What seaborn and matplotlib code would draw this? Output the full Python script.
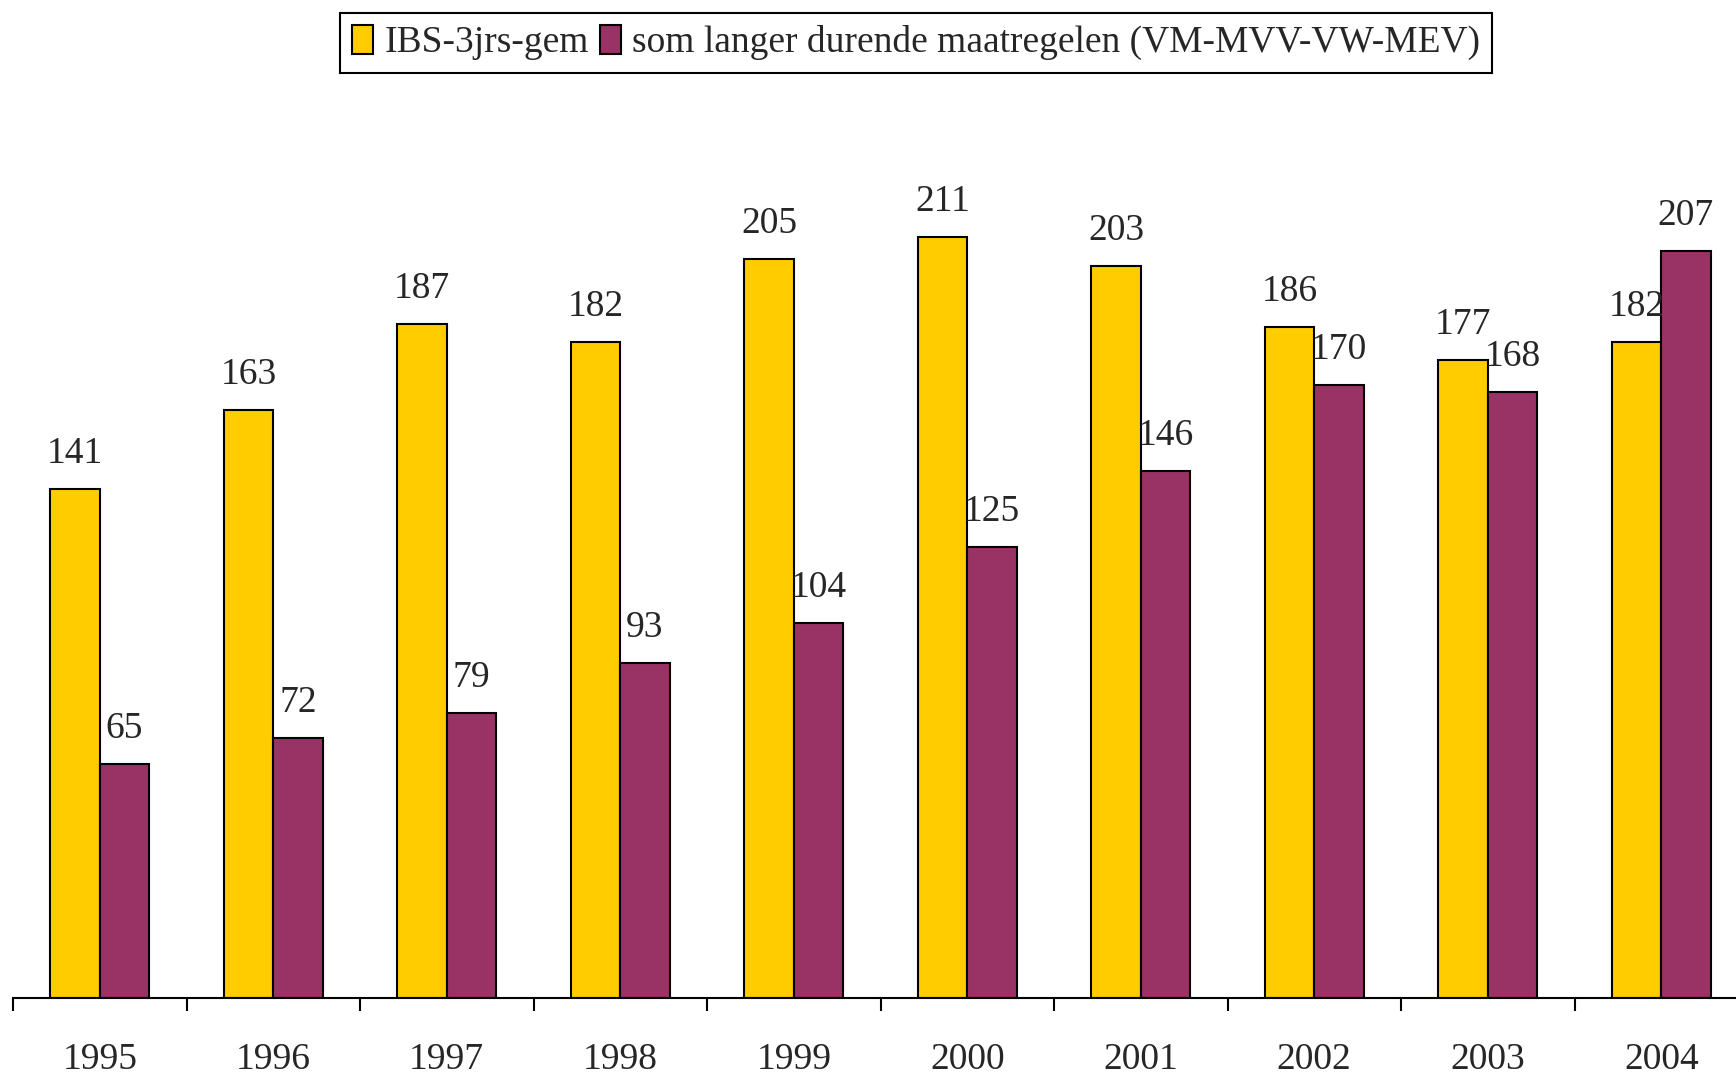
import matplotlib
matplotlib.use('Agg')
import matplotlib.pyplot as plt
import seaborn as sns
import pandas as pd
import numpy as np

years = ['1995', '1996', '1997', '1998', '1999', '2000', '2001', '2002', '2003', '2004']
ibs = [141, 163, 187, 182, 205, 211, 203, 186, 177, 182]
langer = [65, 72, 79, 93, 104, 125, 146, 170, 168, 207]
series_names = ['IBS-3jrs-gem', 'som langer durende maatregelen (VM-MVV-VW-MEV)']
colors = ['#FFCC00', '#993366']

df = pd.DataFrame({
    'jaar': years * 2,
    'waarde': ibs + langer,
    'reeks': [series_names[0]] * len(years) + [series_names[1]] * len(years),
})

sns.set_style('white')
plt.rcParams['font.family'] = ['Liberation Serif', 'DejaVu Serif']

W, H = 1736, 1074
fig = plt.figure(figsize=(W / 100, H / 100), dpi=100)
# axis line at y=998 px, left boundary tick at x=13 px, slot ~173.5 px
slot = 173.5
ylim_top = 240
px_per_unit = 761 / 211
ax_h = ylim_top * px_per_unit
ax = fig.add_axes([13 / W, (H - 998) / H, 10 * slot / W, ax_h / H])

sns.barplot(data=df, x='jaar', y='waarde', hue='reeks', palette=colors,
            width=0.57, edgecolor='black', linewidth=1.5, saturation=1,
            ax=ax, legend=True)

for cont in ax.containers:
    ax.bar_label(cont, padding=13, fontsize=27)

ax.set_ylim(0, ylim_top)
ax.set_xlim(-0.5, 9.5)
ax.set_xlabel('')
ax.set_ylabel('')
ax.set_yticks([])
for s in ['left', 'right', 'top']:
    ax.spines[s].set_visible(False)
ax.spines['bottom'].set_color('black')
ax.spines['bottom'].set_linewidth(1.5)

ax.set_xticks(np.arange(-0.5, 10, 1), minor=True)
ax.tick_params(axis='x', which='minor', length=9, width=1.5, color='black', bottom=True)
ax.tick_params(axis='x', which='major', length=0, pad=32, labelsize=27)

handles, labels = ax.get_legend_handles_labels()
ax.legend(handles, labels, loc='upper center',
          bbox_to_anchor=(916 / W, 1 - 13 / H), bbox_transform=fig.transFigure,
          ncol=2, fontsize=27, frameon=True, fancybox=False, framealpha=1,
          edgecolor='black', handlelength=0.55, handleheight=0.8,
          handletextpad=0.3, columnspacing=0.3, borderpad=0.32,
          borderaxespad=0)
ax.get_legend().get_frame().set_linewidth(1.5)

fig.savefig('out.png', dpi=100)
